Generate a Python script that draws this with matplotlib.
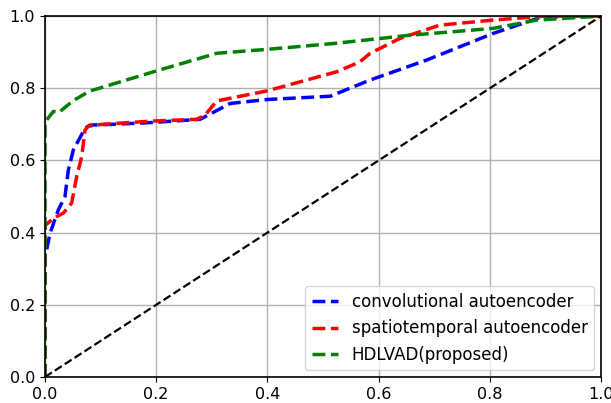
import matplotlib.pyplot as plt

# ROC points
conv_fpr = [0.0, 0.0, 0.003, 0.009, 0.024, 0.036, 0.042, 0.051, 0.072, 0.081, 0.12, 0.19, 0.279,
            0.333, 0.40, 0.513, 0.585, 0.686, 0.806, 0.89, 1.0]
conv_tpr = [0.0, 0.35, 0.352, 0.398, 0.463, 0.50, 0.573, 0.629, 0.689, 0.698, 0.700, 0.705, 0.714,
            0.758, 0.769, 0.778, 0.823, 0.878, 0.952, 0.996, 1.0]

st_fpr = [0.0, 0.0, 0.005, 0.015, 0.033, 0.048, 0.057, 0.066, 0.072, 0.078, 0.102, 0.19, 0.273,
          0.288, 0.309, 0.40, 0.525, 0.566, 0.585, 0.638, 0.71, 0.806, 0.9, 1.0]
st_tpr = [0.0, 0.42, 0.426, 0.44, 0.454, 0.482, 0.555, 0.61, 0.684, 0.695, 0.700, 0.709, 0.714,
          0.726, 0.765, 0.793, 0.846, 0.873, 0.897, 0.938, 0.975, 0.989, 1.0, 1.0]

hdl_fpr = [0.0, 0.0, 0.003, 0.015, 0.025, 0.05, 0.08, 0.2, 0.309, 0.40, 0.518, 0.585, 0.656,
           0.806, 0.884, 1.0]
hdl_tpr = [0.0, 0.70, 0.712, 0.736, 0.733, 0.765, 0.792, 0.848, 0.897, 0.908, 0.924, 0.935, 0.947,
           0.966, 0.989, 1.0]

diag = [0.0, 1.0]

fig = plt.figure(figsize=(6.11, 4.03), dpi=100)
ax = fig.add_axes([0.0736, 0.0645, 0.91, 0.8955])

ax.plot(conv_fpr, conv_tpr, '--', color='blue', lw=2.5, label='convolutional autoencoder')
ax.plot(st_fpr, st_tpr, '--', color='red', lw=2.5, label='spatiotemporal autoencoder')
ax.plot(hdl_fpr, hdl_tpr, '--', color='green', lw=2.5, label='HDLVAD(proposed)')
ax.plot(diag, diag, '--', color='black', lw=1.6)

ax.set_xlim(0, 1)
ax.set_ylim(0, 1)
ax.set_xticks([0, 0.2, 0.4, 0.6, 0.8, 1.0])
ax.set_yticks([0, 0.2, 0.4, 0.6, 0.8, 1.0])
ax.tick_params(labelsize=11.5)
ax.grid(True, color='#b0b0b0', lw=1.0)
for s in ax.spines.values():
    s.set_linewidth(1.2)

ax.legend(loc='lower right', fontsize=12, handlelength=1.6, borderaxespad=0.4)

fig.savefig('out.png', dpi=100)
